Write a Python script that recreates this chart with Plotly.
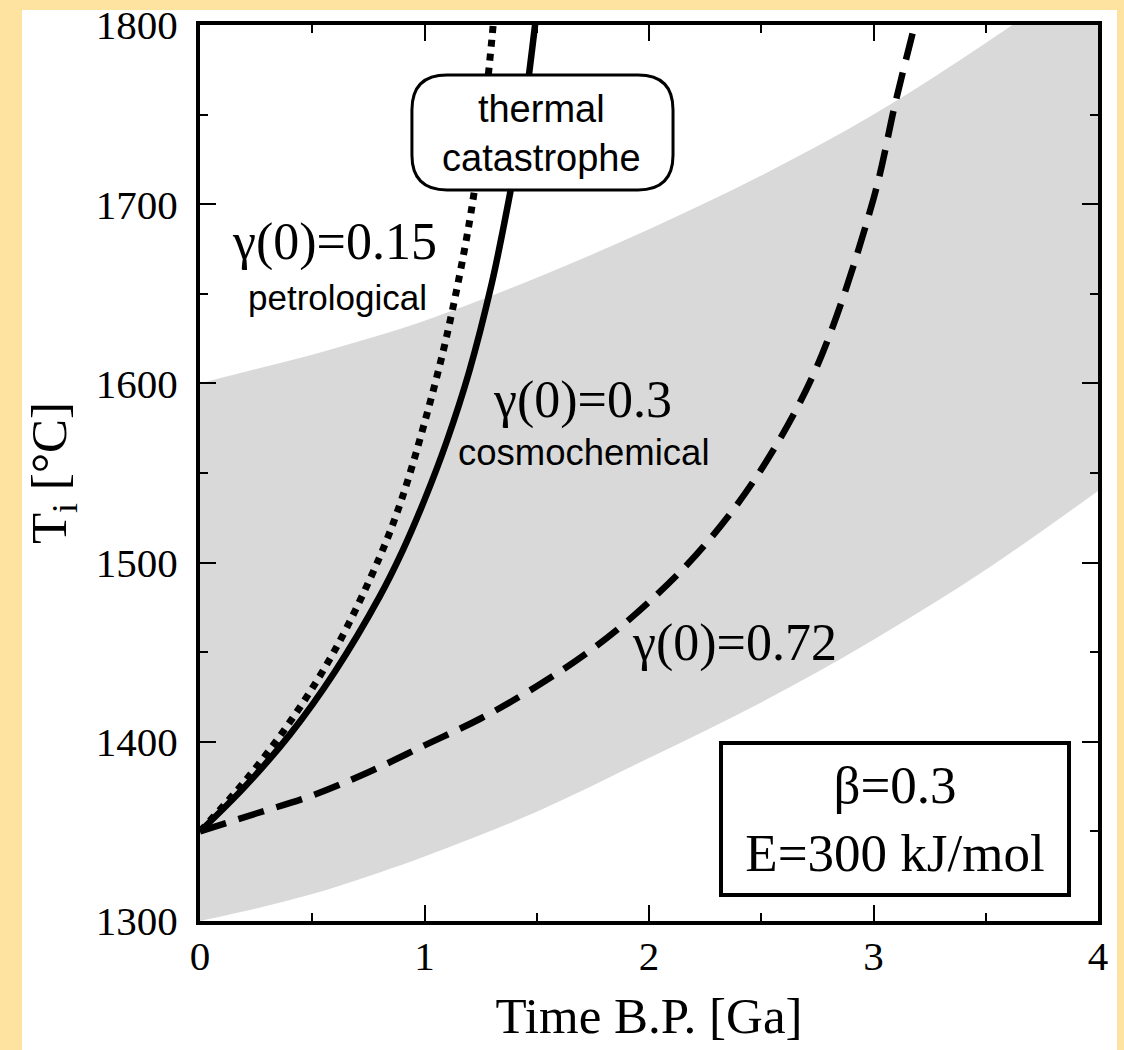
import plotly.graph_objects as go

# ---- data ----
band_t = [0, 0.25, 0.5, 0.75, 1.0, 1.5, 2.0, 2.5, 3.0, 3.5, 4.0]
band_lower = [1300, 1307, 1315, 1325, 1336, 1361, 1391, 1422, 1457, 1496, 1540]
band_upper = [1600, 1608, 1616, 1625, 1635, 1659, 1686, 1716, 1750, 1790, 1833]

t_petro = [0, 0.2, 0.4, 0.6, 0.8, 0.9, 1.0, 1.1, 1.2, 1.25, 1.3, 1.32]
T_petro = [1350, 1378, 1411, 1451, 1503, 1536, 1578, 1627, 1690, 1734, 1792, 1822]

t_cosmo = [0, 0.2, 0.4, 0.6, 0.8, 0.9, 1.0, 1.1, 1.2, 1.3, 1.35, 1.4, 1.45, 1.5]
T_cosmo = [1350, 1375, 1404, 1439, 1481, 1506, 1535, 1568, 1607, 1656, 1686, 1719, 1758, 1808]

t_072 = [0, 0.25, 0.5, 0.75, 1.0, 1.25, 1.5, 1.75, 2.0, 2.25, 2.5, 2.75, 3.0, 3.1, 3.2]
T_072 = [1350, 1360, 1370, 1383, 1398, 1413, 1431, 1452, 1478, 1510, 1552, 1610, 1703, 1758, 1808]

x_ticks = [0, 1, 2, 3, 4]
y_ticks = [1300, 1400, 1500, 1600, 1700, 1800]

SERIF = "Liberation Serif"
SANS = "Liberation Sans"

fig = go.Figure()

# grey band
fig.add_trace(go.Scatter(x=band_t, y=band_lower, mode="lines",
                         line=dict(width=0, color="#d9d9d9", shape="spline"),
                         hoverinfo="skip", showlegend=False))
fig.add_trace(go.Scatter(x=band_t, y=band_upper, mode="lines", fill="tonexty",
                         fillcolor="#d9d9d9", line=dict(width=0, color="#d9d9d9", shape="spline"),
                         hoverinfo="skip", showlegend=False))

fig.add_trace(go.Scatter(x=t_petro, y=T_petro, mode="lines",
                         line=dict(color="black", width=7, dash="7px,7px", shape="spline"),
                         showlegend=False))
fig.add_trace(go.Scatter(x=t_cosmo, y=T_cosmo, mode="lines",
                         line=dict(color="black", width=6.5, shape="spline"), showlegend=False))
fig.add_trace(go.Scatter(x=t_072, y=T_072, mode="lines",
                         line=dict(color="black", width=6.5, dash="27px,13px", shape="spline"),
                         showlegend=False))

# white panel behind the figure
fig.add_shape(type="rect", xref="paper", yref="paper", x0=-0.1982, x1=1.0212,
              y0=-0.2, y1=1.0167, fillcolor="white", line=dict(width=0), layer="below")

# rounded box for "thermal catastrophe"
x0, x1 = 0.944, 2.107
y0, y1 = 1707.9, 1772.1
rx, ry = 0.156, 19.5
path = (f"M {x0+rx},{y1} L {x1-rx},{y1} Q {x1},{y1} {x1},{y1-ry} "
        f"L {x1},{y0+ry} Q {x1},{y0} {x1-rx},{y0} L {x0+rx},{y0} "
        f"Q {x0},{y0} {x0},{y0+ry} L {x0},{y1-ry} Q {x0},{y1} {x0+rx},{y1} Z")
fig.add_shape(type="path", path=path, xref="x", yref="y", fillcolor="white",
              line=dict(color="black", width=3), layer="above")

ann = [
    dict(x=1.523, y=1739.7, text="thermal<br>catastrophe", font=dict(family=SANS, size=38)),
    dict(x=0.601, y=1679, text="γ(0)=0.15", font=dict(family=SERIF, size=52)),
    dict(x=0.613, y=1647.7, text="petrological", font=dict(family=SANS, size=35)),
    dict(x=1.703, y=1590.5, text="γ(0)=0.3", font=dict(family=SERIF, size=52)),
    dict(x=1.712, y=1561.7, text="cosmochemical", font=dict(family=SANS, size=36.5)),
    dict(x=2.383, y=1455, text="γ(0)=0.72", font=dict(family=SERIF, size=52)),
]
for a in ann:
    a["font"]["color"] = "black"
    fig.add_annotation(xref="x", yref="y", showarrow=False, **a)

fig.add_annotation(xref="x", yref="y", x=3.096, y=1357.2, showarrow=False,
                   text="β=0.3<br>E=300 kJ/mol", font=dict(family=SERIF, size=53, color="black"),
                   bgcolor="white", bordercolor="black", borderwidth=4, borderpad=4,
                   width=336, height=140)

axis_common = dict(showline=True, linewidth=4, linecolor="black", mirror="ticks",
                   ticks="inside", ticklen=16, tickwidth=2, tickcolor="black",
                   showgrid=False, zeroline=False,
                   tickfont=dict(family=SERIF, size=41, color="black"))

fig.update_xaxes(range=[0, 4], tickvals=x_ticks, ticktext=[str(v) for v in x_ticks],
                 minor=dict(ticks="inside", ticklen=8, tickwidth=2, tickcolor="black", dtick=0.5, tick0=0),
                 title=dict(text="Time B.P. [Ga]", font=dict(family=SERIF, size=51, color="black"), standoff=20),
                 ticklabelstandoff=-4, **axis_common)
fig.update_yaxes(range=[1300, 1800], tickvals=y_ticks, ticktext=[str(v) for v in y_ticks],
                 minor=dict(ticks="inside", ticklen=8, tickwidth=2, tickcolor="black", dtick=50, tick0=1300),
                 title=dict(text="T<sub>i</sub> [°C]", font=dict(family=SERIF, size=51, color="black"), standoff=14),
                 ticklabelstandoff=10, **axis_common)

fig.update_layout(width=1124, height=1050, margin=dict(l=200, r=26, t=25, b=129, autoexpand=False),
                  paper_bgcolor="#fde2a0", plot_bgcolor="rgba(0,0,0,0)", showlegend=False)

fig.write_html("out.html")
